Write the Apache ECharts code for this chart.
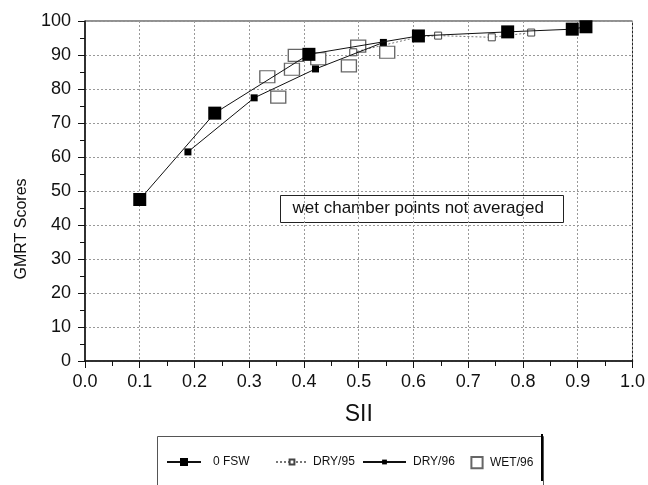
<!DOCTYPE html>
<html>
<head>
<meta charset="utf-8">
<script src="https://cdn.jsdelivr.net/npm/echarts@6/dist/echarts.min.js"></script>
<style>
  html, body { margin: 0; padding: 0; background: #fff; }
  #chart { width: 648px; height: 485px; }
</style>
</head>
<body>
<div id="chart"></div>
<script>
// SII (x) vs GMRT score (y)
const fswX = [0.10, 0.237, 0.409, 0.609, 0.772, 0.890, 0.915];
const fswY = [47.5, 72.9, 90.2, 95.6, 96.8, 97.6, 98.3];

const dry95X = [0.490, 0.609, 0.645, 0.743, 0.815];
const dry95Y = [90.8, 95.3, 95.7, 95.2, 96.6];

const dry96X = [0.188, 0.309, 0.421, 0.545];
const dry96Y = [61.5, 77.4, 85.9, 93.7];

const wet96X = [0.333, 0.353, 0.378, 0.385, 0.426, 0.482, 0.499, 0.552];
const wet96Y = [83.6, 77.6, 85.8, 89.9, 88.9, 86.8, 92.6, 90.8];

const xTicks = ['0.0', '0.1', '0.2', '0.3', '0.4', '0.5', '0.6', '0.7', '0.8', '0.9', '1.0'];

const pairs = (xs, ys) => xs.map((x, i) => [x, ys[i]]);
const font = 'Liberation Sans, Arial, sans-serif';

// one legend per entry so every icon keeps its own size
const mkLegend = (name, left, w, h, gap) => ({
  data: [name], left: left, top: 463 - Math.max(h, 14) / 2 - 5,
  itemWidth: w, itemHeight: h,
  textStyle: { fontSize: 12, color: '#111', padding: [0, 0, 0, gap] }
});

const chart = echarts.init(document.getElementById('chart'));
chart.setOption({
  animation: false,
  textStyle: { fontFamily: font },
  grid: {
    left: 85, right: 11, top: 21, bottom: 124,
    show: true, borderColor: '#222', borderWidth: 1
  },
  xAxis: {
    type: 'value', min: 0, max: 1, interval: 0.1,
    name: 'SII', nameLocation: 'middle', nameGap: 42,
    nameTextStyle: { fontSize: 23, color: '#111' },
    axisLine: { lineStyle: { color: '#111', width: 1.5 } },
    axisTick: { length: 7, lineStyle: { color: '#111' } },
    minorTick: { show: true, splitNumber: 2, length: 5, lineStyle: { color: '#111' } },
    axisLabel: {
      fontSize: 18, color: '#111', margin: 12,
      formatter: v => xTicks[Math.round(v * 10)]
    },
    splitLine: { show: true, lineStyle: { color: '#999', type: [2, 2] } }
  },
  yAxis: {
    type: 'value', min: 0, max: 100, interval: 10,
    name: 'GMRT Scores', nameLocation: 'middle', nameGap: 54,
    nameTextStyle: { fontSize: 16, color: '#111', padding: [0, 76, 0, 0] },
    axisLine: { show: true, lineStyle: { color: '#111', width: 1.5 } },
    axisTick: { show: true, length: 7, lineStyle: { color: '#111' } },
    minorTick: { show: true, splitNumber: 2, length: 5, lineStyle: { color: '#111' } },
    axisLabel: { fontSize: 18, color: '#111', margin: 14 },
    splitLine: { show: true, lineStyle: { color: '#999', type: [2, 2] } }
  },
  legend: [
    mkLegend('0 FSW', 161, 34, 10, 7),
    mkLegend('DRY/95', 270, 32, 6, 0),
    mkLegend('DRY/96', 357, 43, 6, 2),
    mkLegend('WET/96', 465, 14, 14, 1)
  ],
  graphic: [
    {
      type: 'rect', left: 155, top: 434,
      shape: { width: 386, height: 60 },
      style: { fill: 'none', stroke: '#555', lineWidth: 1 }
    },
    {
      type: 'rect', left: 541, top: 434,
      shape: { width: 2, height: 47 },
      style: { fill: '#000' }
    },
    {
      type: 'group', left: 280, top: 195,
      children: [
        { type: 'rect', shape: { width: 283, height: 27 },
          style: { fill: '#fff', stroke: '#222', lineWidth: 1 } },
        { type: 'text', left: 12, top: 4,
          style: { text: 'wet chamber points not averaged', fontSize: 17, fill: '#111', fontFamily: font } }
      ]
    }
  ],
  series: [
    {
      name: 'WET/96', type: 'line', data: pairs(wet96X, wet96Y),
      symbol: 'rect', symbolSize: [15, 12], z: 1,
      lineStyle: { width: 0, opacity: 0 },
      itemStyle: { color: '#fff', borderColor: '#666', borderWidth: 1.2 }
    },
    {
      name: 'DRY/95', type: 'line', data: pairs(dry95X, dry95Y),
      symbol: 'rect', symbolSize: 7, z: 2,
      lineStyle: { color: '#777', width: 1, type: [2, 2] },
      itemStyle: { color: '#fff', borderColor: '#444', borderWidth: 1 }
    },
    {
      name: 'DRY/96', type: 'line', data: pairs(dry96X, dry96Y),
      symbol: 'rect', symbolSize: 7, z: 3,
      lineStyle: { color: '#111', width: 1 },
      itemStyle: { color: '#000' }
    },
    {
      name: '0 FSW', type: 'line', data: pairs(fswX, fswY),
      symbol: 'rect', symbolSize: 13, z: 4,
      lineStyle: { color: '#111', width: 1 },
      itemStyle: { color: '#000' }
    }
  ]
});
</script>
</body>
</html>
